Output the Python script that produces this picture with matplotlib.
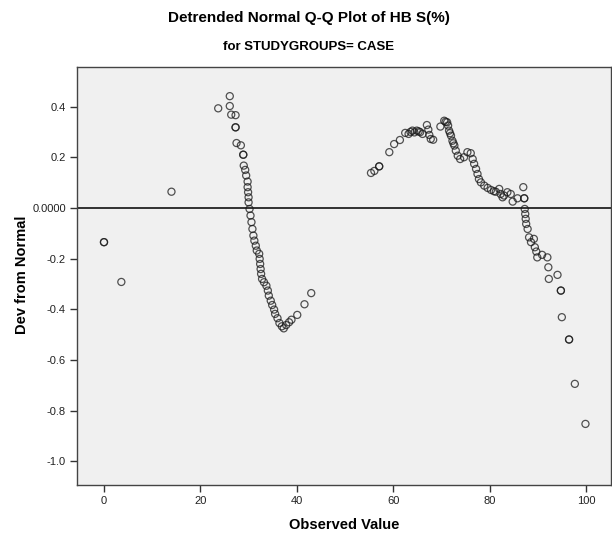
import matplotlib
matplotlib.use("Agg")
import matplotlib.pyplot as plt

observed = [0.0, 0.0, 3.6, 14.0,
            23.7, 26.1, 26.1, 26.4, 27.3, 27.3, 27.3, 27.5, 28.4, 28.9, 28.9,
            29.0, 29.3, 29.5, 29.8, 29.8, 29.9, 30.0, 30.0, 30.2, 30.4, 30.6,
            30.8, 31.0, 31.2, 31.5, 31.7, 32.2, 32.3, 32.4, 32.5, 32.6, 32.8,
            33.2, 33.7, 34.0, 34.2, 34.6, 34.9, 35.3, 35.5, 36.0, 36.4, 36.9,
            37.3, 37.8, 38.4, 38.9, 40.1, 41.6, 43.0,
            55.4, 56.1, 57.1, 57.1, 59.2, 60.2, 61.4, 62.5, 63.2, 63.6, 64.0,
            64.4, 64.9, 65.3, 65.6, 66.1, 67.0, 67.3, 67.5, 67.8, 68.3,
            69.8, 70.6, 70.9, 71.2, 71.4, 71.6, 71.8, 72.0, 72.3, 72.5, 72.7,
            73.0, 73.4, 73.9, 74.7, 75.4, 76.1, 76.5, 76.8, 77.2, 77.5, 77.8,
            78.2, 78.9, 79.6, 80.3, 80.9, 81.3, 82.0, 82.3, 82.7, 83.0, 83.7,
            84.4, 84.8, 85.8, 87.0, 87.2, 87.2, 87.3, 87.4, 87.5, 87.6, 87.9,
            88.2, 88.6, 89.2, 89.4, 89.7, 89.9, 90.9, 92.0, 92.2, 92.3, 94.1,
            94.8, 94.8, 95.0, 96.5, 96.5, 97.7, 99.9]
deviation = [-0.135, -0.135, -0.292, 0.064,
             0.393, 0.441, 0.402, 0.368, 0.366, 0.318, 0.318, 0.256, 0.247, 0.210, 0.210,
             0.167, 0.150, 0.128, 0.104, 0.082, 0.062, 0.042, 0.022, -0.004, -0.030, -0.056,
             -0.083, -0.109, -0.129, -0.149, -0.168, -0.181, -0.201, -0.221, -0.241, -0.260, -0.280,
             -0.293, -0.307, -0.326, -0.346, -0.366, -0.383, -0.401, -0.418, -0.435, -0.454, -0.467,
             -0.475, -0.462, -0.451, -0.441, -0.422, -0.380, -0.336,
             0.138, 0.146, 0.164, 0.164, 0.220, 0.252, 0.268, 0.296, 0.292, 0.300, 0.305,
             0.298, 0.305, 0.302, 0.299, 0.292, 0.327, 0.309, 0.288, 0.272, 0.269,
             0.321, 0.344, 0.340, 0.338, 0.325, 0.305, 0.295, 0.285, 0.265, 0.255, 0.246,
             0.226, 0.206, 0.193, 0.200, 0.220, 0.216, 0.193, 0.174, 0.154, 0.134, 0.114,
             0.101, 0.088, 0.079, 0.071, 0.066, 0.064, 0.075, 0.055, 0.042, 0.049, 0.062,
             0.055, 0.025, 0.038, 0.082, 0.038, 0.038, -0.004, -0.024, -0.043, -0.063, -0.083,
             -0.116, -0.135, -0.122, -0.155, -0.172, -0.195, -0.185, -0.195, -0.234, -0.280, -0.264,
             -0.326, -0.326, -0.431, -0.519, -0.519, -0.694, -0.852]

x_ticks = [0, 20, 40, 60, 80, 100]
y_ticks = [0.4, 0.2, 0.0, -0.2, -0.4, -0.6, -0.8, -1.0]
y_tick_labels = ["0.4", "0.2", "0.0000", "-0.2", "-0.4", "-0.6", "-0.8", "-1.0"]

narrow = ["Liberation Sans Narrow", "Liberation Sans", "DejaVu Sans"]
plt.rcParams["font.family"] = ["Liberation Sans", "DejaVu Sans"]

fig = plt.figure(figsize=(6.12, 5.4), dpi=100)
ax = fig.add_axes([77 / 612, 55 / 540, 534 / 612, 418 / 540])
ax.set_facecolor("#f0f0f0")

# zero reference line
ax.axhline(0, color="#222222", linewidth=1.3, zorder=1)

ax.scatter(observed, deviation, s=26, facecolors="none", edgecolors="#1a1a1a",
           linewidths=0.9, alpha=0.75, zorder=2)

ax.set_xlim(-5.6, 105.2)
ax.set_ylim(-1.093, 0.556)
ax.set_xticks(x_ticks)
ax.set_yticks(y_ticks)
ax.set_yticklabels(y_tick_labels)
ax.tick_params(direction="out", length=5, width=1, color="#333333",
               labelsize=8, labelcolor="#222222", pad=3)
for s in ax.spines.values():
    s.set_color("#444444")
    s.set_linewidth(1)

fig.text(0.505, 1 - 18 / 540, "Detrended Normal Q-Q Plot of HB S(%)", ha="center", va="center",
         fontsize=11, fontweight="bold", family=narrow)
fig.text(0.505, 1 - 47 / 540, "for STUDYGROUPS= CASE", ha="center", va="center",
         fontsize=9.5, fontweight="bold", family=narrow)
fig.text(344 / 612, 1 - 525 / 540, "Observed Value", ha="center", va="center",
         fontsize=10.5, fontweight="bold")
fig.text(22 / 612, 1 - 275 / 540, "Dev from Normal", ha="center", va="center",
         rotation=90, fontsize=10.5, fontweight="bold")

fig.savefig("out.png", dpi=100)
